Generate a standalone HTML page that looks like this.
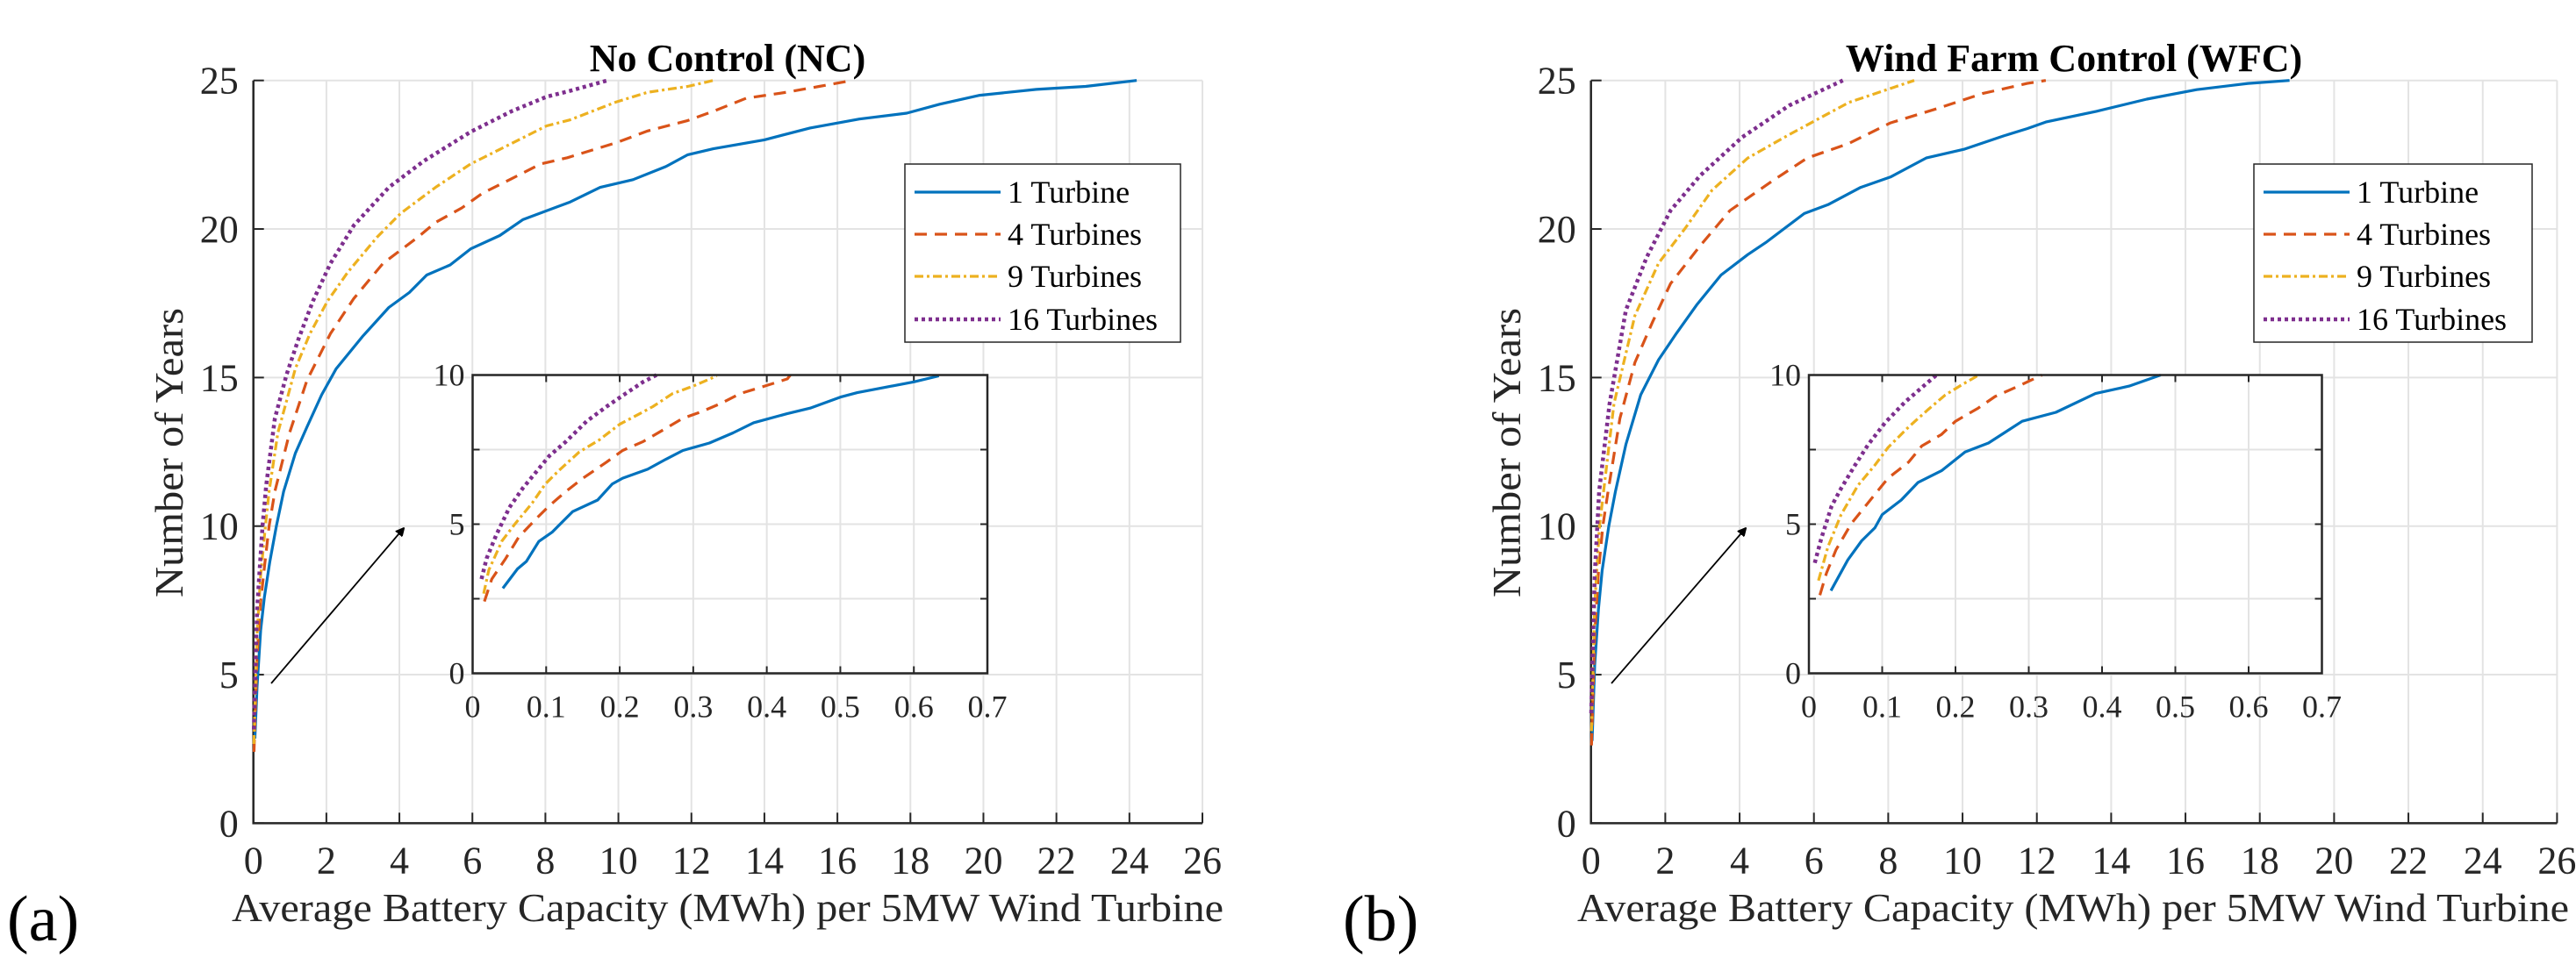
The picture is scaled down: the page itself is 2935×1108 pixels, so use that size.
<!DOCTYPE html>
<html><head><meta charset="utf-8"><style>
html,body{margin:0;padding:0;background:#fff;}
svg{display:block;font-family:"Liberation Serif",serif;}
text{font-family:"Liberation Serif",serif;}
</style></head><body>
<svg id="fig" width="2935" height="1108" viewBox="0 0 2935 1108" xmlns="http://www.w3.org/2000/svg">
<defs><marker id="ah" markerWidth="10" markerHeight="10" refX="9" refY="5" orient="auto" markerUnits="userSpaceOnUse"><path d="M0,0 L10,5 L0,10 z" fill="#000" transform="scale(3.2) translate(-6.5,-3.4)"/></marker></defs>
</svg>
<script>
// ---------- data: panel (a) No Control ----------
const seriesNames = ["1 Turbine","4 Turbines","9 Turbines","16 Turbines"];
const xTicksMain = [0,2,4,6,8,10,12,14,16,18,20,22,24,26];
const yTicksMain = [0,5,10,15,20,25];
const xTicksInset = [0,0.1,0.2,0.3,0.4,0.5,0.6,0.7];
const yTicksInset = [0,5,10];

const ncX1 = [0.04,0.1,0.2,0.3,0.45,0.63,0.83,1.15,1.47,1.87,2.27,2.99,3.71,4.27,4.75,5.39,5.95,6.75,7.39,8.68,9.5,10.4,11.3,11.9,12.6,14,15.25,16.6,17.9,18.8,19.9,21.45,22.8,24.2];
const ncY1 = [2.85,4.6,6.5,7.6,8.8,10,11.17,12.45,13.34,14.42,15.3,16.38,17.36,17.86,18.45,18.79,19.33,19.78,20.32,20.91,21.4,21.66,22.1,22.5,22.7,23.0,23.4,23.7,23.9,24.2,24.5,24.7,24.8,25];
const ncX4 = [0.016,0.1,0.2,0.3,0.43,0.59,0.99,1.47,2.11,2.75,3.55,4.51,4.99,5.71,6.27,7.07,7.87,8.6,9.93,10.8,11.9,12.6,13.5,14.6,15.5,16.4];
const ncY4 = [2.4,5.6,7.45,8.6,10,11.17,13.14,14.91,16.48,17.66,18.84,19.73,20.22,20.71,21.2,21.69,22.19,22.4,22.9,23.3,23.65,23.96,24.4,24.6,24.8,25];
const ncX9 = [0.015,0.1,0.2,0.33,0.43,0.67,1.15,1.55,2.03,2.59,3.39,4.03,4.99,5.95,6.75,8.03,8.67,9.93,10.8,11.9,12.6];
const ncY9 = [2.67,6.35,8.35,10,11.17,13.14,15.3,16.48,17.57,18.55,19.73,20.52,21.4,22.19,22.68,23.47,23.67,24.27,24.6,24.8,25];
const ncX16 = [0.012,0.1,0.25,0.35,0.59,0.91,1.23,1.63,2.11,2.75,3.71,4.67,5.95,7.07,8.03,8.67,9.7];
const ncY16 = [3.16,7.2,10,11.37,13.63,15.1,16.28,17.57,18.84,20.12,21.4,22.29,23.27,23.96,24.45,24.65,25];

const ncInX1 = [0.041,0.061,0.073,0.09,0.108,0.136,0.17,0.19,0.204,0.238,0.263,0.286,0.322,0.354,0.382,0.427,0.459,0.5,0.523,0.559,0.6,0.634];
const ncInY1 = [2.85,3.5,3.75,4.42,4.73,5.42,5.81,6.35,6.54,6.84,7.18,7.47,7.72,8.06,8.4,8.7,8.89,9.26,9.41,9.58,9.77,9.97];
const ncInX4 = [0.016,0.026,0.045,0.063,0.088,0.104,0.127,0.15,0.182,0.204,0.232,0.259,0.286,0.309,0.337,0.364,0.4,0.428,0.432];
const ncInY4 = [2.41,3.16,3.85,4.58,5.22,5.61,6.1,6.54,7.08,7.47,7.77,8.16,8.55,8.75,9.04,9.38,9.65,9.87,10];
const ncInX9 = [0.015,0.022,0.04,0.058,0.081,0.099,0.117,0.145,0.172,0.2,0.227,0.245,0.272,0.3,0.332];
const ncInY9 = [2.67,3.46,4.44,5.02,5.71,6.35,6.79,7.42,7.82,8.35,8.7,8.94,9.38,9.63,9.97];
const ncInX16 = [0.012,0.019,0.032,0.05,0.068,0.086,0.104,0.127,0.155,0.182,0.205,0.232,0.25];
const ncInY16 = [3.16,3.85,4.63,5.56,6.2,6.74,7.28,7.77,8.45,8.94,9.33,9.77,10];

// ---------- data: panel (b) Wind Farm Control ----------
const wfX1 = [0.03,0.1,0.2,0.3,0.48,0.66,0.94,1.34,1.82,2.3,2.86,3.5,4.22,4.7,5.74,6.38,7.26,8.06,9.02,10.06,11.1,11.74,12.24,13.6,14.96,16.3,17.68,18.8];
const wfY1 = [2.77,5.3,7.2,8.5,10,11.17,12.75,14.42,15.6,16.49,17.47,18.45,19.14,19.54,20.52,20.82,21.4,21.75,22.39,22.69,23.13,23.38,23.6,23.96,24.37,24.69,24.9,25];
const wfX4 = [0.015,0.1,0.2,0.32,0.46,0.78,1.18,1.66,2.14,2.94,3.74,4.86,5.82,6.94,8.06,9.34,10.54,11.74,12.24];
const wfY4 = [2.62,6.3,8.45,10,11.17,13.63,15.5,16.88,18.16,19.44,20.62,21.6,22.39,22.88,23.57,24.06,24.56,24.9,25];
const wfX9 = [0.013,0.1,0.23,0.34,0.62,1.18,1.82,2.54,3.26,4.22,5.34,6.94,8.7];
const wfY9 = [3.1,7.3,10,11.17,14.12,17.08,18.85,20.03,21.31,22.39,23.18,24.26,25];
const wfX16 = [0.008,0.1,0.17,0.22,0.5,0.94,1.5,2.14,2.94,4.06,5.34,6.78];
const wfY16 = [3.7,8.3,10,11.17,14.12,17.27,19.05,20.62,21.8,23.08,24.16,25];

const wfInX1 = [0.03,0.053,0.072,0.09,0.1,0.126,0.149,0.181,0.213,0.245,0.291,0.337,0.391,0.437,0.48];
const wfInY1 = [2.77,3.8,4.44,4.88,5.32,5.81,6.4,6.79,7.42,7.72,8.45,8.75,9.38,9.63,10];
const wfInX4 = [0.015,0.024,0.037,0.058,0.09,0.108,0.136,0.154,0.181,0.2,0.231,0.254,0.286,0.318];
const wfInY4 = [2.62,3.36,4.14,5.02,6.0,6.54,7.08,7.62,8.01,8.45,8.89,9.28,9.63,10];
const wfInX9 = [0.013,0.026,0.044,0.067,0.09,0.108,0.136,0.163,0.186,0.209,0.232];
const wfInY9 = [3.11,4.24,5.32,6.3,6.98,7.57,8.26,8.85,9.33,9.68,10];
const wfInX16 = [0.008,0.017,0.031,0.044,0.063,0.081,0.104,0.131,0.154,0.174];
const wfInY16 = [3.7,4.53,5.61,6.2,6.98,7.67,8.4,9.09,9.58,10];

const colors = ["#0072BD","#D95319","#EDB120","#7E2F8E"];
const dashes = ["none","14,9","10,4,3,4","4,4"];
const SERIF = '"Liberation Serif", serif';

const svg = document.getElementById('fig');
const NS = "http://www.w3.org/2000/svg";
function mk(tag, attrs, parent){
  const e = document.createElementNS(NS, tag);
  for (const k in attrs) e.setAttribute(k, attrs[k]);
  (parent||svg).appendChild(e);
  return e;
}
function txt(s, attrs, parent){
  const t = mk('text', attrs, parent);
  if (!attrs['font-family']) t.setAttribute('font-family', SERIF);
  t.textContent = s; return t;
}

function axis(L, R, T, B, xmin, xmax, ymin, ymax){
  return {
    x: v => L + (v - xmin) / (xmax - xmin) * (R - L),
    y: v => B - (v - ymin) / (ymax - ymin) * (B - T)
  };
}

function drawPanel(opt){
  const g = mk('g', {});
  
  
  const {L,R,T,B} = opt.main;
  const a = axis(L, R, T, B, 0, 26, 0, 25);
  xTicksMain.forEach(v => {
    const l = mk('line', {x1:a.x(v), x2:a.x(v), y1:T, y2:B, stroke:'#e3e3e3', 'stroke-width':2}, g);
    
    
  });
  yTicksMain.forEach(v => {
    const l = mk('line', {x1:L, x2:R, y1:a.y(v), y2:a.y(v), stroke:'#e3e3e3', 'stroke-width':2}, g);
    
    
  });
  const ax = mk('path', {d:`M${L},${T} L${L},${B} L${R},${B}`, fill:'none', stroke:'#262626', 'stroke-width':2.5}, g);
  
  
  xTicksMain.forEach(v => {
    mk('line', {x1:a.x(v), x2:a.x(v), y1:B, y2:B-12, stroke:'#262626', 'stroke-width':2}, g);
    const t = txt(String(v), {x:a.x(v), y:B+57, 'text-anchor':'middle', 'font-size':44, fill:'#262626'}, g);
    
    
  });
  yTicksMain.forEach(v => {
    mk('line', {x1:L, x2:L+12, y1:a.y(v), y2:a.y(v), stroke:'#262626', 'stroke-width':2}, g);
    const t = txt(String(v), {x:L-17, y:a.y(v)+15, 'text-anchor':'end', 'font-size':44, fill:'#262626'}, g);
    
    
  });
  opt.series.forEach((s, i) => {
    const d = s[0].map((xv, k) => (k ? 'L' : 'M') + a.x(xv).toFixed(1) + ',' + a.y(s[1][k]).toFixed(1)).join(' ');
    const p = mk('path', {d, fill:'none', stroke:colors[i], 'stroke-width':i==3?4.5:3.2, 'stroke-dasharray':dashes[i], 'stroke-linejoin':'round'}, g);
    
    
  });
  const ti = txt(opt.title, {x:opt.titleX, y:81, 'text-anchor':'middle', 'font-size':44, 'font-weight':'bold', fill:'#000'}, g);
  
  
  const xl = txt('Average Battery Capacity (MWh) per 5MW Wind Turbine', {x:opt.xlabX, y:1050, 'text-anchor':'middle', 'font-size':46, fill:'#262626', textLength:1130, lengthAdjust:'spacingAndGlyphs'}, g);
  
  
  const yl = txt('Number of Years', {x:0, y:0, 'text-anchor':'middle', 'font-size':46, fill:'#262626', textLength:330, lengthAdjust:'spacingAndGlyphs', transform:`translate(${opt.ylabX},516) rotate(-90)`}, g);
  
  
  const pl = txt(opt.letter, {x:opt.letterX, y:1072, 'font-size':74, fill:'#000', 'font-family':'"DejaVu Serif",serif'}, g);
  
  
  const ar = mk('line', {x1:opt.arrow[0], y1:opt.arrow[1], x2:opt.arrow[2], y2:opt.arrow[3], stroke:'#000', 'stroke-width':1.8, 'marker-end':'url(#ah)'}, g);
  
  
  const I = opt.inset;
  const ig = mk('g', {}, g);
  
  
  mk('rect', {x:I.L, y:I.T, width:I.R-I.L, height:I.B-I.T, fill:'#fff'}, ig);
  const b = axis(I.L, I.R, I.T, I.B, 0, 0.7, 0, 10);
  xTicksInset.forEach(v => {
    mk('line', {x1:b.x(v), x2:b.x(v), y1:I.T, y2:I.B, stroke:'#e3e3e3', 'stroke-width':2}, ig);
  });
  [2.5,5,7.5].forEach(v => {
    mk('line', {x1:I.L, x2:I.R, y1:b.y(v), y2:b.y(v), stroke:'#e3e3e3', 'stroke-width':2}, ig);
  });
  xTicksInset.forEach(v => {
    mk('line', {x1:b.x(v), x2:b.x(v), y1:I.B, y2:I.B-8, stroke:'#262626', 'stroke-width':2}, ig);
    mk('line', {x1:b.x(v), x2:b.x(v), y1:I.T, y2:I.T+8, stroke:'#262626', 'stroke-width':2}, ig);
    const t = txt(String(v), {x:b.x(v), y:I.B+50, 'text-anchor':'middle', 'font-size':36, fill:'#262626'}, ig);
    
    
  });
  [0,2.5,5,7.5,10].forEach(v => {
    mk('line', {x1:I.L, x2:I.L+8, y1:b.y(v), y2:b.y(v), stroke:'#262626', 'stroke-width':2}, ig);
    mk('line', {x1:I.R, x2:I.R-8, y1:b.y(v), y2:b.y(v), stroke:'#262626', 'stroke-width':2}, ig);
  });
  yTicksInset.forEach(v => {
    const t = txt(String(v), {x:I.L-9, y:b.y(v)+12, 'text-anchor':'end', 'font-size':36, fill:'#262626'}, ig);
    
    
  });
  opt.insetSeries.forEach((s, i) => {
    const d = s[0].map((xv, k) => (k ? 'L' : 'M') + b.x(xv).toFixed(1) + ',' + b.y(s[1][k]).toFixed(1)).join(' ');
    const p = mk('path', {d, fill:'none', stroke:colors[i], 'stroke-width':i==3?4.5:3.2, 'stroke-dasharray':dashes[i], 'stroke-linejoin':'round'}, ig);
    
    
  });
  const ib = mk('rect', {x:I.L, y:I.T, width:I.R-I.L, height:I.B-I.T, fill:'none', stroke:'#262626', 'stroke-width':2.5}, ig);
  
  
  const G = opt.legend;
  const lg = mk('g', {}, g);
  
  
  mk('rect', {x:G.L, y:187, width:G.W, height:203, fill:'#fff', stroke:'#262626', 'stroke-width':1.5}, lg);
  const rows = [219,267,315,364];
  seriesNames.forEach((n, i) => {
    const e = mk('g', {}, lg);
    
    
    mk('line', {x1:G.L+11, x2:G.L+109, y1:rows[i], y2:rows[i], stroke:colors[i], 'stroke-width':i==3?4.5:3.2, 'stroke-dasharray':dashes[i]}, e);
    txt(n, {x:G.L+117, y:rows[i]+12, 'font-size':36, fill:'#000'}, e);
  });
}

drawPanel({
  name:'panel-a-no-control', title:'No Control (NC)', titleX:829, xlabX:829, ylabX:208, letter:'(a)', letterX:8,
  main:{L:288.7, R:1370, T:91.7, B:938.4},
  inset:{L:538.5, R:1125, T:427.5, B:767.5},
  legend:{L:1031, W:314},
  arrow:[309,779,460,602],
  series:[[ncX1,ncY1],[ncX4,ncY4],[ncX9,ncY9],[ncX16,ncY16]],
  insetSeries:[[ncInX1,ncInY1],[ncInX4,ncInY4],[ncInX9,ncInY9],[ncInX16,ncInY16]]
});
drawPanel({
  name:'panel-b-wind-farm-control', title:'Wind Farm Control (WFC)', titleX:2363, xlabX:2362, ylabX:1732, letter:'(b)', letterX:1530,
  main:{L:1812.7, R:2913.4, T:91.7, B:938.4},
  inset:{L:2061, R:2645.5, T:427.5, B:767.5},
  legend:{L:2568, W:317},
  arrow:[1836,779,1989,602],
  series:[[wfX1,wfY1],[wfX4,wfY4],[wfX9,wfY9],[wfX16,wfY16]],
  insetSeries:[[wfInX1,wfInY1],[wfInX4,wfInY4],[wfInX9,wfInY9],[wfInX16,wfInY16]]
});
</script>
</body></html>
